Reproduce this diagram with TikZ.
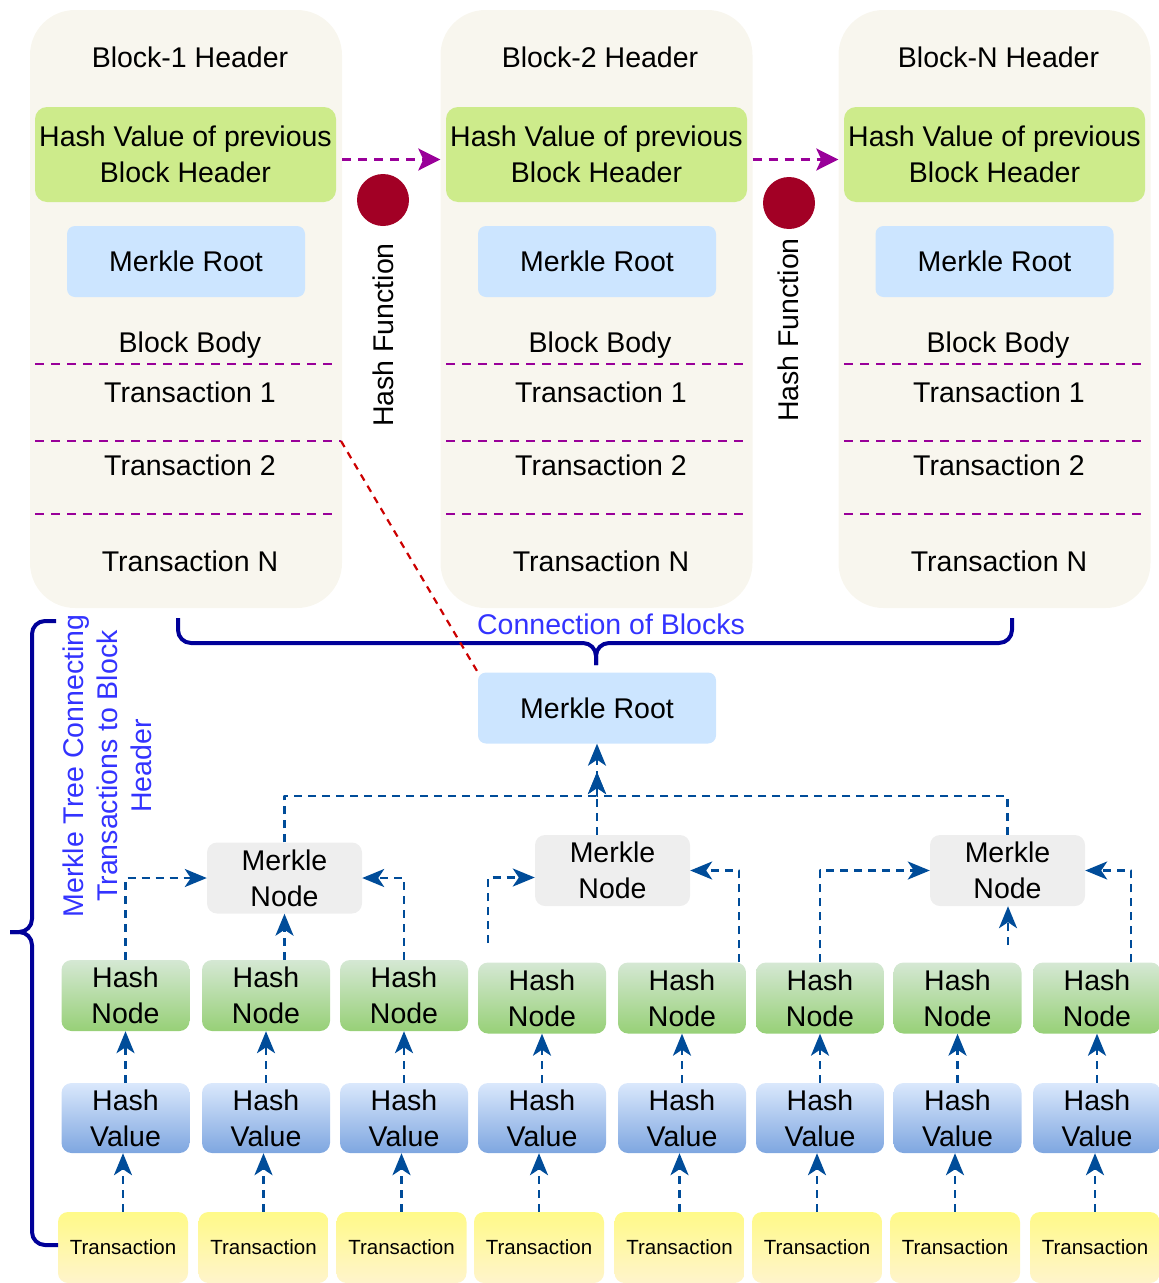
\documentclass[tikz,border=0pt]{standalone}
\usepackage{fontspec}
\setmainfont{Liberation Sans}
\usetikzlibrary{arrows.meta}
\definecolor{blockfill}{HTML}{F8F6EE}
\definecolor{prevfill}{HTML}{CDEB8B}
\definecolor{rootfill}{HTML}{CCE5FF}
\definecolor{mnodefill}{HTML}{EEEEEE}
\definecolor{hnodetop}{HTML}{D5E8D4}
\definecolor{hnodebot}{HTML}{97D077}
\definecolor{hvaltop}{HTML}{DAE8FC}
\definecolor{hvalbot}{HTML}{7EA6E0}
\definecolor{txtop}{HTML}{FFFA88}
\definecolor{txbot}{HTML}{FFF4CC}
\definecolor{linkpurple}{HTML}{990099}
\definecolor{hashred}{HTML}{A20025}
\definecolor{rootred}{HTML}{CC0000}
\definecolor{bracenavy}{HTML}{000099}
\definecolor{notebl}{HTML}{3333FF}
\definecolor{flowblue}{HTML}{004C99}
\begin{document}
\begin{tikzpicture}[>=latex,line join=bevel,
  every node/.style={font=\fontsize{28.5bp}{36bp}\selectfont,inner sep=0pt},
  blockbg/.style={fill=blockfill,rounded corners=45bp,minimum width=312bp,minimum height=598bp},
  prevhash/.style={fill=prevfill,rounded corners=12bp,minimum width=301bp,minimum height=95bp,align=center},
  rootbox/.style={fill=rootfill,rounded corners=8bp,minimum width=238bp,minimum height=71bp},
  mnode/.style={fill=mnodefill,rounded corners=10bp,minimum width=155bp,minimum height=71bp,align=center},
  hnode/.style={top color=hnodetop,bottom color=hnodebot,rounded corners=10bp,minimum width=128bp,minimum height=71bp,align=center},
  hval/.style={top color=hvaltop,bottom color=hvalbot,rounded corners=10bp,minimum width=128bp,minimum height=70bp,align=center},
  txbox/.style={top color=txtop,bottom color=txbot,rounded corners=10bp,minimum width=130bp,minimum height=71bp,font=\fontsize{20.5bp}{24bp}\selectfont},
  hashdot/.style={circle,fill=hashred,minimum size=52bp},
  sepline/.style={linkpurple,line width=2.8bp,dash pattern=on 9bp off 7bp},
  chain/.style={linkpurple,line width=2.8bp,dash pattern=on 9bp off 7bp,-{Stealth[length=22bp,width=22bp,inset=5bp]}},
  flow/.style={flowblue,line width=2.8bp,dash pattern=on 8bp off 6bp,-{Stealth[length=22bp,width=18bp,inset=6bp]}},
  rootlink/.style={rootred,line width=2.2bp,dash pattern=on 7bp off 6bp},
  bracket/.style={bracenavy,line width=4bp,rounded corners=13bp},
  note/.style={text=notebl,align=center,font=\fontsize{28.5bp}{34bp}\selectfont}]
%%
\useasboundingbox (0bp,0bp) rectangle (1159bp,-1283bp);
%% blocks
\node (blk1) at (186bp,-309bp) [blockbg] {};
  \node (blk2) at (596.5bp,-309bp) [blockbg] {};
  \node (blkn) at (994.5bp,-309bp) [blockbg] {};
  \node (head1) at (190bp,-57bp) {Block-1 Header};
  \node (head2) at (600bp,-57bp) {Block-2 Header};
  \node (headn) at (998.5bp,-57bp) {Block-N Header};
  \node (prev1) at (185.5bp,-154.5bp) [prevhash] {Hash Value of previous\\Block Header};
  \node (prev2) at (596.5bp,-154.5bp) [prevhash] {Hash Value of previous\\Block Header};
  \node (prevn) at (994.5bp,-154.5bp) [prevhash] {Hash Value of previous\\Block Header};
  \node (root1) at (186bp,-261.5bp) [rootbox] {Merkle Root};
  \node (root2) at (597bp,-261.5bp) [rootbox] {Merkle Root};
  \node (rootn) at (994.5bp,-261.5bp) [rootbox] {Merkle Root};
  \node (body1) at (190bp,-345bp) {Block Body};
  \node (body2) at (600bp,-345bp) {Block Body};
  \node (bodyn) at (998bp,-345bp) {Block Body};
  \node (tr11) at (190bp,-392bp) {Transaction 1};
  \node (tr12) at (190bp,-465bp) {Transaction 2};
  \node (tr1n) at (190bp,-561bp) {Transaction N};
  \node (tr21) at (601bp,-392bp) {Transaction 1};
  \node (tr22) at (601bp,-465bp) {Transaction 2};
  \node (tr2n) at (601bp,-561bp) {Transaction N};
  \node (trn1) at (999bp,-392bp) {Transaction 1};
  \node (trn2) at (999bp,-465bp) {Transaction 2};
  \node (trnn) at (999bp,-561bp) {Transaction N};
  \node (hdot1) at (383bp,-200bp) [hashdot] {};
  \node (hdot2) at (789bp,-203bp) [hashdot] {};
  \node (hfun1) at (383bp,-335bp) [rotate=90] {Hash Function};
  \node (hfun2) at (788bp,-330bp) [rotate=90] {Hash Function};
%% body separators
\draw [sepline] (35bp,-364bp) -- (336bp,-364bp);
  \draw [sepline] (35bp,-441bp) -- (341bp,-441bp) coordinate (sep12);
  \draw [sepline] (35bp,-514bp) -- (336bp,-514bp);
  \draw [sepline] (446bp,-364bp) -- (747bp,-364bp);
  \draw [sepline] (446bp,-441bp) -- (747bp,-441bp);
  \draw [sepline] (446bp,-514bp) -- (747bp,-514bp);
  \draw [sepline] (844bp,-364bp) -- (1145bp,-364bp);
  \draw [sepline] (844bp,-441bp) -- (1145bp,-441bp);
  \draw [sepline] (844bp,-514bp) -- (1145bp,-514bp);
  \draw [chain] ([yshift=-5bp]blk1.east |- prev1.east) -- ([yshift=-5bp]blk2.west |- prev2.west);
  \draw [chain] ([yshift=-5bp]blk2.east |- prev2.east) -- ([yshift=-5bp]blkn.west |- prevn.west);
%% merkle tree
\node (mroot) at (597bp,-708bp) [rootbox] {Merkle Root};
  \node (conn) at (611bp,-624bp) [note] {Connection of Blocks};
  \node (tree) at (107bp,-766bp) [note,rotate=90] {Merkle Tree Connecting\\Transactions to Block\\Header};
  \node (mn1) at (284.5bp,-878bp) [mnode] {Merkle\\Node};
  \node (mn2) at (612.5bp,-870.5bp) [mnode] {Merkle\\Node};
  \node (mn3) at (1007.5bp,-870.5bp) [mnode] {Merkle\\Node};
  \node (hn1) at (125.5bp,-995.5bp) [hnode] {Hash\\Node};
  \node (hn2) at (266bp,-995.5bp) [hnode] {Hash\\Node};
  \node (hn3) at (404bp,-995.5bp) [hnode] {Hash\\Node};
  \node (hn4) at (542bp,-998bp) [hnode] {Hash\\Node};
  \node (hn5) at (682bp,-998bp) [hnode] {Hash\\Node};
  \node (hn6) at (820bp,-998bp) [hnode] {Hash\\Node};
  \node (hn7) at (957.5bp,-998bp) [hnode] {Hash\\Node};
  \node (hn8) at (1097bp,-998bp) [hnode] {Hash\\Node};
  \node (hv1) at (125.5bp,-1118bp) [hval] {Hash\\Value};
  \node (hv2) at (266bp,-1118bp) [hval] {Hash\\Value};
  \node (hv3) at (404bp,-1118bp) [hval] {Hash\\Value};
  \node (hv4) at (542bp,-1118bp) [hval] {Hash\\Value};
  \node (hv5) at (682bp,-1118bp) [hval] {Hash\\Value};
  \node (hv6) at (820bp,-1118bp) [hval] {Hash\\Value};
  \node (hv7) at (957.5bp,-1118bp) [hval] {Hash\\Value};
  \node (hv8) at (1097bp,-1118bp) [hval] {Hash\\Value};
  \node (tx1) at (123bp,-1247.5bp) [txbox] {Transaction};
  \node (tx2) at (263.5bp,-1247.5bp) [txbox] {Transaction};
  \node (tx3) at (401.5bp,-1247.5bp) [txbox] {Transaction};
  \node (tx4) at (539bp,-1247.5bp) [txbox] {Transaction};
  \node (tx5) at (679.5bp,-1247.5bp) [txbox] {Transaction};
  \node (tx6) at (817bp,-1247.5bp) [txbox] {Transaction};
  \node (tx7) at (955bp,-1247.5bp) [txbox] {Transaction};
  \node (tx8) at (1095bp,-1247.5bp) [txbox] {Transaction};
  \coordinate (brtip) at (596bp,-665bp);
  \coordinate (lbtip) at (10bp,-932bp);
  \coordinate (h4end) at (488bp,-943bp);
  \coordinate (h7end) at (1008bp,-945bp);
  \coordinate (mjoin) at (597bp,-796bp);
  \coordinate (mtip) at (597bp,-772bp);
%% braces
\draw [bracket] (178bp,-618bp) -- (178bp,-643bp) -- (brtip |- 0,-643bp) -- (brtip);
  \draw [bracket] (1012bp,-618bp) -- (1012bp,-643bp) -- (brtip |- 0,-643bp) -- (brtip);
  \draw [bracket] (56bp,-621bp) -- (32bp,-621bp) -- (32bp,-932bp) -- (lbtip);
  \draw [bracket] (58bp,-1245bp) -- (32bp,-1245bp) -- (32bp,-932bp) -- (lbtip);
%%
\draw [rootlink] (sep12) -- (mroot.north west);
  \draw [flow] (tx1.north) -- (tx1.north |- hv1.south);
  \draw [flow] (tx2.north) -- (tx2.north |- hv2.south);
  \draw [flow] (tx3.north) -- (tx3.north |- hv3.south);
  \draw [flow] (tx4.north) -- (tx4.north |- hv4.south);
  \draw [flow] (tx5.north) -- (tx5.north |- hv5.south);
  \draw [flow] (tx6.north) -- (tx6.north |- hv6.south);
  \draw [flow] (tx7.north) -- (tx7.north |- hv7.south);
  \draw [flow] (tx8.north) -- (tx8.north |- hv8.south);
  \draw [flow] (hv1.north) -- (hn1.south);
  \draw [flow] (hv2.north) -- (hn2.south);
  \draw [flow] (hv3.north) -- (hn3.south);
  \draw [flow] (hv4.north) -- (hn4.south);
  \draw [flow] (hv5.north) -- (hn5.south);
  \draw [flow] (hv6.north) -- (hn6.south);
  \draw [flow] (hv7.north) -- (hn7.south);
  \draw [flow] (hv8.north) -- (hn8.south);
  \draw [flow] (hn1.north) |- (mn1.west);
  \draw [flow] (mn1.south |- hn2.north) -- (mn1.south);
  \draw [flow] (hn3.north) |- (mn1.east);
  \draw [flow] (h4end) |- ([yshift=-7bp]mn2.west);
  \draw [flow] ([xshift=57bp]hn5.north) |- (mn2.east);
  \draw [flow] (hn6.north) |- (mn3.west);
  \draw [flow] (h7end) -- (h7end |- mn3.south);
  \draw [flow] ([xshift=34bp]hn8.north) |- (mn3.east);
  \draw [flow] (mroot.south |- mn2.north) -- (mroot.south);
  \draw [flow] (mn1.north) |- (mjoin) -- (mtip);
  \draw [flow] (mn3.north) |- (mjoin) -- (mtip);
%
\end{tikzpicture}
\end{document}
